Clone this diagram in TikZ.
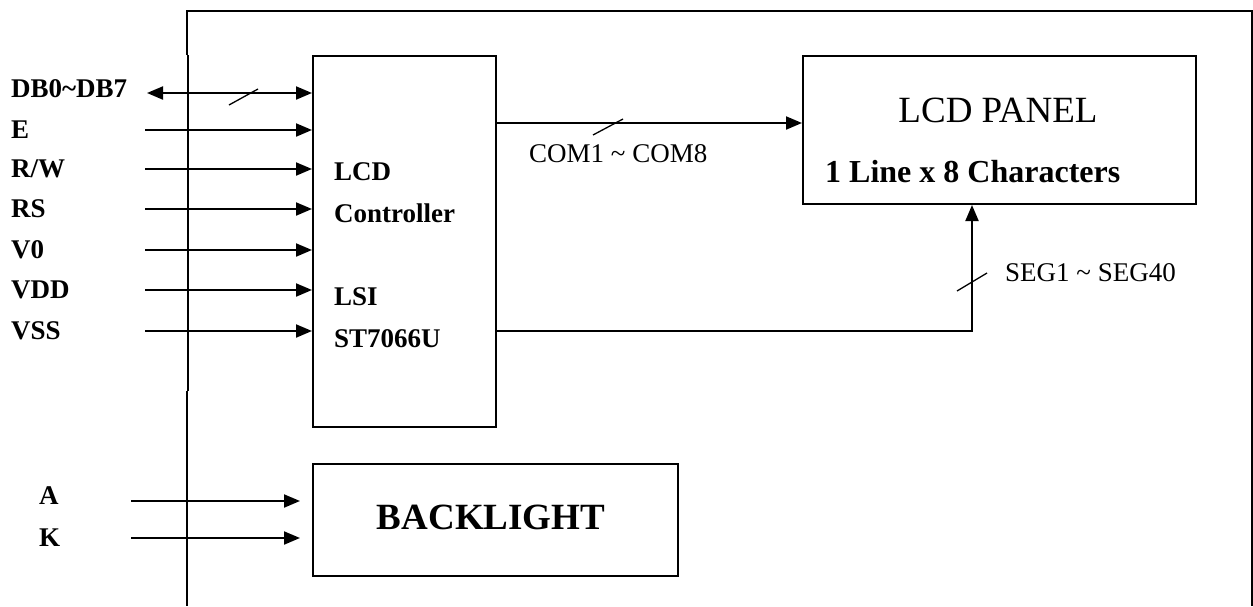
\documentclass[tikz,border=0pt]{standalone}
\usepackage{fontspec}
\setmainfont{Liberation Serif}
\usetikzlibrary{arrows.meta,positioning}

\tikzset{
  blockbox/.style={draw, line width=2pt, inner sep=0pt},
  sigarrow/.style={line width=2pt, -{Triangle[length=16pt,width=13pt]}},
  busarrow/.style={line width=2pt, {Triangle[length=16pt,width=13pt]}-{Triangle[length=16pt,width=13pt]}},
  busmark/.style={line width=1.3pt},
  pinlabel/.style={font=\fontsize{27}{30}\selectfont\bfseries, anchor=base west, inner sep=0pt},
  sigtext/.style={font=\fontsize{27}{30}\selectfont, anchor=base west, inner sep=0pt},
}

\begin{document}
\begin{tikzpicture}[x=1pt,y=-1pt]
    \useasboundingbox (0,0) rectangle (1253,606);

    % module outline
    \draw [line width=2pt] (187,55) -- (187,11) -- (1252,11) -- (1252,606);
    \draw [line width=1.2pt] (188,55) -- (188,391);
    \draw [line width=2pt] (187,391) -- (187,606);

    % blocks
    \node [blockbox, minimum width=183pt, minimum height=371pt] (ctrl) at (404.5,241.5) {};
    \node [blockbox, minimum width=393pt, minimum height=148pt] (panel) at (999.5,130) {};
    \node [blockbox, minimum width=365pt, minimum height=112pt] (bl) at (495.5,520) {};

    \node [pinlabel] (ctrl1) at (334,180) {LCD};
    \node [pinlabel] (ctrl2) at (334,222) {Controller};
    \node [pinlabel] (ctrl3) at (334,305) {LSI};
    \node [pinlabel] (ctrl4) at (334,347) {ST7066U};

    \node [font=\fontsize{37}{40}\selectfont, anchor=base] (paneltitle) at (998,122) {LCD PANEL};
    \node [font=\fontsize{32}{36}\selectfont\bfseries, anchor=base west, inner sep=0pt] (panelsize) at (825,182) {1 Line x 8 Characters};
    \node [font=\fontsize{37}{40}\selectfont\bfseries, anchor=base] (bltext) at (491,529) {BACKLIGHT};

    % interface pins
    \node [pinlabel] (db) at (11,97) {DB0\textasciitilde DB7};
    \coordinate (db start) at (147,93);
    \draw [busarrow] (db start) -- (ctrl.west |- db start);
    \draw [busmark] (229,105) -- (258,89);

    \foreach \y/\nm/\txt in {130/e/E, 169/rw/{R/W}, 209/rs/RS, 250/vo/V0, 290/vdd/VDD, 331/vss/VSS} {
        \node [pinlabel] (\nm) at (11,\y+8) {\txt};
        \coordinate (\nm start) at (145,\y);
        \draw [sigarrow] (\nm start) -- (ctrl.west |- \nm start);
    }

    % common lines
    \coordinate (com in) at ([yshift=7pt]panel.west);
    \draw [sigarrow] (ctrl.east |- com in) -- (com in);
    \draw [busmark] (593,135) -- (623,119);
    \node [sigtext] (comlbl) at (529,162) {COM1 \textasciitilde{} COM8};

    % segment lines
    \coordinate (seg in) at ([xshift=-27.5pt]panel.south);
    \coordinate (seg out) at ([yshift=-89.5pt]ctrl.east);
    \draw [sigarrow] (seg out) -- (seg out -| seg in) -- (seg in);
    \draw [busmark] (957,291) -- (987,273);
    \node [sigtext] (seglbl) at (1005,281) {SEG1 \textasciitilde{} SEG40};

    % backlight supply
    \foreach \y/\nm/\txt/\b in {501/a/A/504, 538/k/K/546} {
        \node [pinlabel] (\nm) at (39,\b) {\txt};
        \coordinate (\nm start) at (131,\y);
        \coordinate (\nm end) at (300,\y);
        \draw [sigarrow] (\nm start) -- (\nm end);
    }
\end{tikzpicture}
\end{document}
